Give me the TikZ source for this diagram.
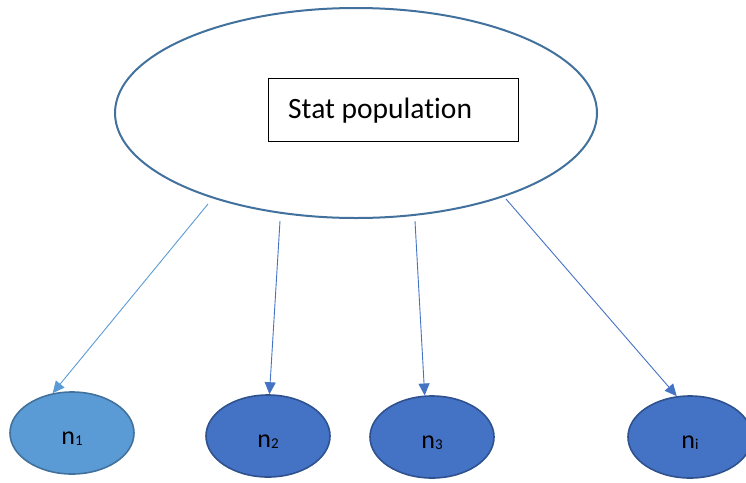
\documentclass[tikz,border=0pt]{standalone}
\usepackage{fontspec}
\setmainfont[Ligatures=NoCommon]{Carlito}
\usetikzlibrary{arrows.meta,shapes.geometric}
\definecolor{lblue}{HTML}{5B9BD5}
\definecolor{mblue}{HTML}{4472C4}
\definecolor{dblue}{HTML}{41719C}
\definecolor{ddblue}{HTML}{2F528F}
\newcommand{\nsub}[1]{n{\fontsize{15}{15}\selectfont\raisebox{-1pt}{#1}}}
\tikzset{
  popell/.style={ellipse,draw=dblue,line width=2pt,minimum width=482pt,minimum height=210pt,inner sep=0pt},
  labelbox/.style={draw=black,line width=1pt,minimum width=250pt,minimum height=63pt,inner sep=0pt},
  sampell/.style={ellipse,line width=1.6pt,minimum width=124pt,minimum height=82pt,inner sep=0pt,text height=22pt,text depth=0pt,font=\fontsize{26}{28}\selectfont},
  conn/.style={line width=0.9pt,-{Triangle[length=12pt,width=11pt]}}
}
\begin{document}
\begin{tikzpicture}[x=1pt,y=-1pt]
\useasboundingbox (0,0) rectangle (746,482);
\node[popell] (pop) at (356,113) {};
\node[labelbox,anchor=north west] (box) at (268,78) {};
\node[anchor=base west,font=\fontsize{29.5}{32}\selectfont,inner sep=0pt] (lbl) at (288,118) {Stat population};
\node[sampell,fill=lblue,draw=dblue] (n1) at (72,433) {\nsub{1}};
\node[sampell,fill=mblue,draw=ddblue] (n2) at (268,436) {\nsub{2}};
\node[sampell,fill=mblue,draw=ddblue] (n3) at (432,437) {\nsub{3}};
\node[sampell,fill=mblue,draw=ddblue] (ni) at (690,437) {\nsub{i}};
\coordinate (s1) at (208,204);
\coordinate (s2) at (280,221);
\coordinate (s3) at (415,221);
\coordinate (s4) at (506,199);
\draw[conn,draw=lblue,-{Triangle[length=12pt,width=11pt,fill=lblue]}] (s1) -- (n1.116);
\draw[conn,draw=mblue] (s2) -- (n2.88);
\draw[conn,draw=mblue] (s3) -- (n3.100);
\draw[conn,draw=mblue] (s4) -- (ni.108);
\end{tikzpicture}
\end{document}
